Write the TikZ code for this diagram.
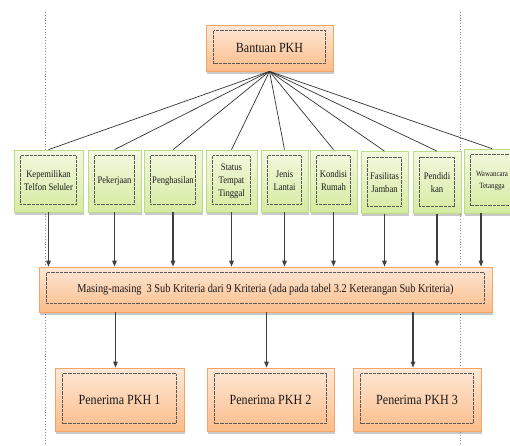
\documentclass[tikz,border=0pt]{standalone}
\usepackage{fontspec}
\setmainfont{Liberation Serif}[FakeStretch=0.86]
\usetikzlibrary{shadows,arrows.meta}

\definecolor{pkhtop}{HTML}{FEE8D7}
\definecolor{pkhbot}{HTML}{FBBC89}
\definecolor{pkhline}{HTML}{F5A565}
\definecolor{ijotop}{HTML}{F2F9E0}
\definecolor{ijobot}{HTML}{D5EBA0}
\definecolor{ijoline}{HTML}{BDD98C}

\begin{document}
\begin{tikzpicture}[x=1pt,y=-1pt,
    shade/.style={drop shadow={shadow xshift=0.5pt,shadow yshift=-2.5pt,opacity=0.3,fill=black!70}},
    box/.style={draw=pkhline,line width=0.7pt,top color=pkhtop,bottom color=pkhbot,shade,
      inner sep=0pt,align=center,text=black!90},
    krit/.style={draw=ijoline,line width=0.7pt,top color=ijotop,bottom color=ijobot,shade,
      inner sep=0pt,align=center,text=black!90,minimum height=62pt,font=\fontsize{10}{13}\selectfont},
    inner/.style={draw=black!65,line width=0.55pt,dash pattern=on 0.8pt off 0.5pt},
    spoke/.style={black!80,line width=0.7pt},
    arr/.style={-{Triangle[length=6pt,width=4.5pt]},black!75,line width=1.2pt}]
  \useasboundingbox (0,0) rectangle (510,445);
  \clip (0,0) rectangle (510,445);
  \draw[black!45,dotted,line width=0.8pt] (45,12) -- (45,445);
  \draw[black!45,dotted,line width=0.8pt] (460.5,12) -- (460.5,445);

  \node[box,minimum width=127pt,minimum height=46pt,font=\fontsize{14}{16}\selectfont] (top) at (269.5,48) {Bantuan PKH};

  \node[krit,minimum width=69pt] (c1) at (48.5,181) {Kepemilikan\\Telfon Seluler};
  \node[krit,minimum width=53pt] (c2) at (114.5,181) {Pekerjaan};
  \node[krit,minimum width=58pt] (c3) at (173,181) {Penghasilan};
  \node[krit,minimum width=51pt] (c4) at (231.5,181) {Status\\Tempat\\Tinggal};
  \node[krit,minimum width=47pt] (c5) at (284.5,181) {Jenis\\Lantai};
  \node[krit,minimum width=47pt] (c6) at (333.5,181) {Kondisi\\Rumah};
  \node[krit,minimum width=47pt] (c7) at (384.5,182.5) {Fasilitas\\Jamban};
  \node[krit,minimum width=48pt] (c8) at (437,182.5) {Pendidi\\kan};
  \node[krit,minimum width=56pt,minimum height=64pt,font=\fontsize{8}{12}\selectfont] (c9) at (492,181) {Wawancara\\Tetangga};

  \node[box,minimum width=453pt,minimum height=45pt,font=\fontsize{12}{14}\selectfont] (bar) at (265.5,289.5)
    {Masing-masing~ 3 Sub Kriteria dari 9 Kriteria (ada pada tabel 3.2 Keterangan Sub Kriteria)};

  \node[box,minimum width=129pt,minimum height=63pt,font=\fontsize{14}{16}\selectfont] (p1) at (119.5,399.5) {Penerima PKH 1};
  \node[box,minimum width=127pt,minimum height=63pt,font=\fontsize{14}{16}\selectfont] (p2) at (270.5,399.5) {Penerima PKH 2};
  \node[box,minimum width=128pt,minimum height=63pt,font=\fontsize{14}{16}\selectfont] (p3) at (417,399.5) {Penerima PKH 3};

  \foreach \n in {top,p1,p2,p3}
    \draw[inner] ([shift={(8,6)}]\n.north west) rectangle ([shift={(-8,-8)}]\n.south east);
  \draw[inner] ([shift={(8,6)}]bar.north west) rectangle ([shift={(-8,-9)}]bar.south east);
  \foreach \i in {1,...,9}
    \draw[inner] ([shift={(7,6)}]c\i.north west) rectangle ([shift={(-7,-8)}]c\i.south east);

  \foreach \i in {1,...,9}
    \draw[spoke] (top.south) -- (c\i.north);
  \foreach \i in {1,...,8}
    \draw[arr] (c\i.south) -- (c\i.south |- bar.north);
  \draw[arr] ([xshift=-11pt]c9.south) -- ([xshift=-11pt]c9.south |- bar.north);
  \foreach \i in {1,2,3}
    \draw[arr] ([xshift=-4pt]p\i.north |- bar.south) -- ([xshift=-4pt]p\i.north);
\end{tikzpicture}
\end{document}
